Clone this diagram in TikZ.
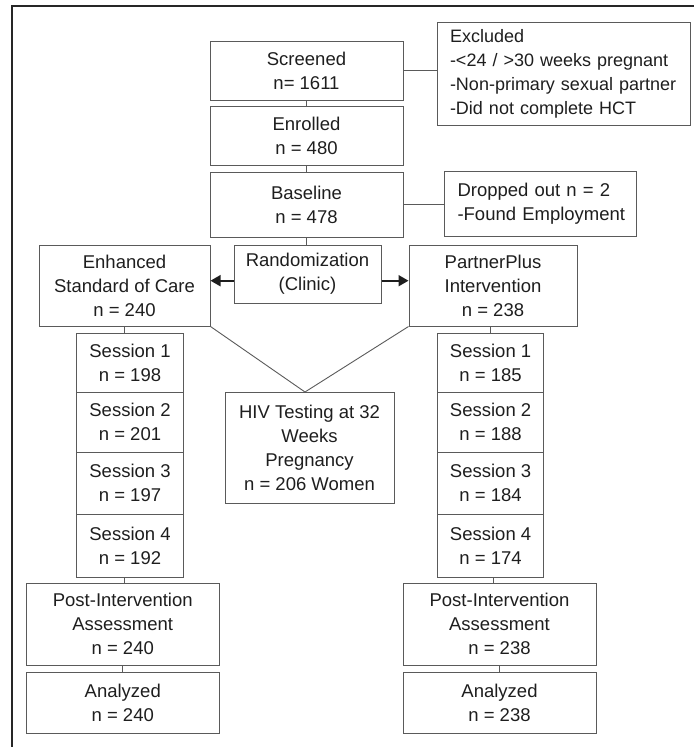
\documentclass[tikz,border=0pt]{standalone}
\usepackage{fontspec}
\setmainfont{Liberation Sans}
\usetikzlibrary{arrows.meta}
\definecolor{txt}{HTML}{1E1E1E}
\definecolor{ln}{HTML}{5A5A5A}
\tikzset{
  box/.style={draw=ln, line width=1pt, text=txt, align=center, inner sep=0pt,
    font=\fontsize{18.5pt}{24pt}\selectfont},
  lbox/.style={box, align=left, inner xsep=13pt},
  conn/.style={draw=ln, line width=0.9pt},
  arr/.style={conn, -{Triangle[length=10pt,width=11pt]}, line width=1.8pt, draw=txt, fill=txt},
}
\hbadness=10000 \hfuzz=200pt
\begin{document}
\begin{tikzpicture}[x=1pt,y=-1pt]
\path[use as bounding box] (0,0) rectangle (694,747);
\draw[line width=1.3pt, black!85] (12,747) -- (12,6) -- (694,6);

\node[box, minimum width=193, minimum height=59] (scr) at (306.5,70.5) {Screened\\n= 1611};
\node[lbox, text width=227, minimum height=103, font=\fontsize{18pt}{24pt}\selectfont] (exc) at (563.5,73.5) {\mbox{Excluded}\\\mbox{-<24 / >30 weeks pregnant}\\\mbox{-Non-primary sexual partner}\\\mbox{-Did not complete HCT}};
\node[box, minimum width=193, minimum height=59] (enr) at (306.5,135.5) {Enrolled\\n = 480};
\node[box, minimum width=193, minimum height=65] (base) at (306.5,204.5) {Baseline\\n = 478};
\node[lbox, text width=166, minimum height=65] (drop) at (540.5,203.5) {\mbox{Dropped out n = 2}\\\mbox{-Found Employment}};
\node[box, minimum width=147, minimum height=58] (rand) at (307.5,274) {Randomization\\(Clinic)};
\node[box, minimum width=171, minimum height=81] (esc) at (124.5,285.5) {Enhanced\\Standard of Care\\n = 240};
\node[box, minimum width=168, minimum height=81] (pp) at (493,285.5) {PartnerPlus\\Intervention\\n = 238};

\node[box, minimum width=106.5, minimum height=59] (ls1) at (130,362.5) {Session 1\\n = 198};
\node[box, minimum width=106.5, minimum height=60] (ls2) at (130,422) {Session 2\\n = 201};
\node[box, minimum width=106.5, minimum height=62] (ls3) at (130,483) {Session 3\\n = 197};
\node[box, minimum width=106.5, minimum height=63] (ls4) at (130,545.5) {Session 4\\n = 192};

\node[box, minimum width=106, minimum height=59] (rs1) at (490.6,362.5) {Session 1\\n = 185};
\node[box, minimum width=106, minimum height=60] (rs2) at (490.6,422) {Session 2\\n = 188};
\node[box, minimum width=106, minimum height=62] (rs3) at (490.6,483) {Session 3\\n = 184};
\node[box, minimum width=106, minimum height=63] (rs4) at (490.6,545.5) {Session 4\\n = 174};

\node[box, minimum width=169, minimum height=111] (hiv) at (309.5,447.5) {HIV Testing at 32\\Weeks\\Pregnancy\\n = 206 Women};
\coordinate (apex) at (305,392);

\node[box, minimum width=192.5, minimum height=82] (lpost) at (122.75,624) {Post-Intervention\\Assessment\\n = 240};
\node[box, minimum width=192.5, minimum height=61] (lana) at (122.75,702.5) {Analyzed\\n = 240};
\node[box, minimum width=193, minimum height=82] (rpost) at (499.5,624) {Post-Intervention\\Assessment\\n = 238};
\node[box, minimum width=193, minimum height=61] (rana) at (499.5,702.5) {Analyzed\\n = 238};

\draw[conn] (scr.south) -- (enr.north);
\draw[conn] (enr.south) -- (base.north);
\draw[conn] (base.south) -- (base.south |- rand.north);
\draw[conn] (scr.east) -- (scr.east -| exc.west);
\draw[conn] (base.east) -- (base.east -| drop.west);
\draw[arr] ([yshift=-6.7pt]rand.west) -- ([yshift=-6.7pt]rand.west -| esc.east);
\draw[arr] ([yshift=-6.7pt]rand.east) -- ([yshift=-6.7pt]rand.east -| pp.west);
\draw[conn] (esc.south east) -- (apex);
\draw[conn] (pp.south west) -- (apex);
\draw[conn] (esc.south) -- (esc.south |- ls1.north);
\draw[conn] (rs1.north) -- (rs1.north |- pp.south);
\draw[conn] (lpost.north) ++(2,0) coordinate (lpb) -- (lpb |- ls4.south);
\draw[conn] (lpost.south) -- (lana.north);
\draw[conn] (rs4.south) ++(3,0) coordinate (rsb) -- (rsb |- rpost.north);
\draw[conn] (rpost.south) -- (rana.north);
\end{tikzpicture}
\end{document}
